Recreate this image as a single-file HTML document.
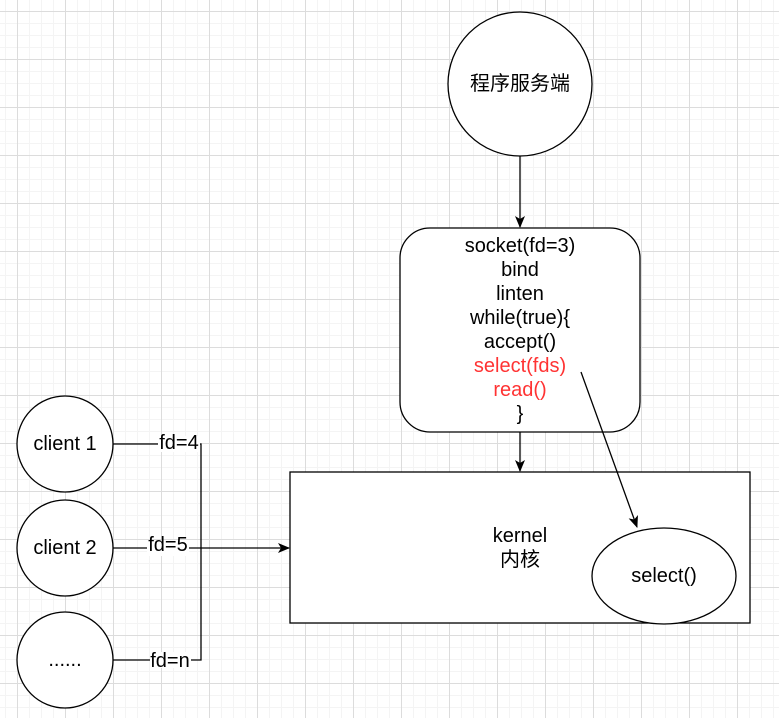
<!DOCTYPE html>
<html><head><meta charset="utf-8"><style>
html,body{margin:0;padding:0;}
body{width:779px;height:718px;overflow:hidden;background:#fff;
background-image:
linear-gradient(#dcdcdc 1px,transparent 1px),
linear-gradient(90deg,#dcdcdc 1px,transparent 1px),
linear-gradient(#f4f4f4 1px,transparent 1px),
linear-gradient(90deg,#f4f4f4 1px,transparent 1px);
background-size:48px 48px,48px 48px,12px 12px,12px 12px;
background-position:0 11px,17px 0,0 11px,17px 0;}
svg{position:absolute;left:0;top:0;}
text{font-family:"Liberation Sans","Noto Sans CJK SC",sans-serif;font-size:20px;text-anchor:middle;dominant-baseline:central;}
</style></head><body>
<svg width="779" height="718" viewBox="0 0 779 718">
<defs><marker id="a" viewBox="0 0 12 12" refX="11" refY="6" markerWidth="12" markerHeight="12" markerUnits="userSpaceOnUse" orient="auto"><path d="M0,1 L12,6 L0,11 L3,6 Z" fill="#000"/></marker></defs>
<g stroke="#000" stroke-width="1.3" fill="#fff">
<circle cx="520" cy="84" r="72"/>
<rect x="400" y="228" width="240" height="204" rx="30"/>
<rect x="290" y="472" width="460" height="151"/>
<ellipse cx="664" cy="576" rx="72" ry="48"/>
<circle cx="65" cy="444" r="48"/>
<circle cx="65" cy="548" r="48"/>
<circle cx="65" cy="660" r="48"/>
</g>
<g stroke="#000" stroke-width="1.3" fill="none">
<line x1="520" y1="156" x2="520" y2="227" marker-end="url(#a)"/>
<line x1="520" y1="432" x2="520" y2="471" marker-end="url(#a)"/>
<line x1="581" y1="372" x2="637" y2="527" marker-end="url(#a)"/>
<polyline points="113,444 201,444 201,660 113,660"/>
<line x1="113" y1="548" x2="289" y2="548" marker-end="url(#a)"/>
</g>
<g fill="#fff">
<rect x="158" y="436" width="42" height="16"/>
<rect x="147" y="540" width="42" height="16"/>
<rect x="150" y="652" width="41" height="16"/>
</g>
<text x="520" y="84">程序服务端</text>
<text x="520" y="246">socket(fd=3)</text>
<text x="520" y="270">bind</text>
<text x="520" y="294">linten</text>
<text x="520" y="318">while(true){</text>
<text x="520" y="342">accept()</text>
<text x="520" y="366" fill="#ff3333">select(fds)</text>
<text x="520" y="390" fill="#ff3333">read()</text>
<text x="520" y="414">}</text>
<text x="520" y="536">kernel</text>
<text x="520" y="560">内核</text>
<text x="664" y="576">select()</text>
<text x="65" y="444">client 1</text>
<text x="65" y="548">client 2</text>
<text x="65" y="660">......</text>
<text x="179" y="443">fd=4</text>
<text x="168" y="545">fd=5</text>
<text x="170" y="661">fd=n</text>
</svg>
</body></html>
